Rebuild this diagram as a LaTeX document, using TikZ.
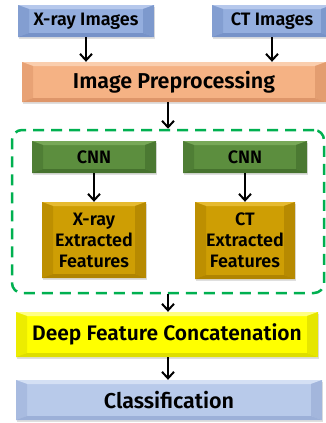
\documentclass[tikz,border=0pt]{standalone}
\usepackage{fontspec}
\setmainfont{Fira Sans}[UprightFont=* SemiBold, BoldFont=* Bold]
\usetikzlibrary{arrows.meta,calc,shadows}
\definecolor{bluF}{RGB}{148,174,222}
\definecolor{bluL}{RGB}{182,200,236}
\definecolor{bluD}{RGB}{118,146,200}
\definecolor{preF}{RGB}{245,178,132}
\definecolor{preL}{RGB}{250,206,174}
\definecolor{preD}{RGB}{222,150,106}
\definecolor{grnF}{RGB}{92,142,62}
\definecolor{grnL}{RGB}{120,168,88}
\definecolor{grnD}{RGB}{70,114,46}
\definecolor{gldF}{RGB}{206,158,4}
\definecolor{gldL}{RGB}{230,186,48}
\definecolor{gldD}{RGB}{176,132,0}
\definecolor{ylwF}{RGB}{255,255,0}
\definecolor{ylwL}{RGB}{255,255,130}
\definecolor{ylwD}{RGB}{222,222,0}
\definecolor{clsF}{RGB}{184,202,234}
\definecolor{clsL}{RGB}{212,224,244}
\definecolor{clsD}{RGB}{156,176,216}
\definecolor{dgreen}{RGB}{0,176,80}
\tikzset{
  bevel/.style 2 args={path picture={
    \coordinate (bvNE) at (path picture bounding box.north east);
    \coordinate (bvSW) at (path picture bounding box.south west);
    \coordinate (bvNW) at (bvSW|-bvNE);
    \coordinate (bvSE) at (bvNE|-bvSW);
    \coordinate (iNE) at ($(bvNE)+(-11pt,-4pt)$);
    \coordinate (iSW) at ($(bvSW)+(11pt,4pt)$);
    \coordinate (iNW) at (iSW|-iNE);
    \coordinate (iSE) at (iNE|-iSW);
    \fill[#1] (bvNW)--(bvNE)--(iNE)--(iNW)--cycle;
    \fill[#2,opacity=.55] (bvNW)--(iNW)--(iSW)--(bvSW)--cycle;
    \fill[#2,opacity=.75] (bvNE)--(iNE)--(iSE)--(bvSE)--cycle;
    \fill[#2] (bvSW)--(iSW)--(iSE)--(bvSE)--cycle;
  }},
  box/.style={inner sep=0pt, align=center, text=black,
    drop shadow={shadow xshift=1pt, shadow yshift=-1.5pt, opacity=0.25}},
  bluebox/.style={box, fill=bluF, bevel={bluL}{bluD}, font=\fontsize{18}{21}\selectfont},
  prebox/.style={box, fill=preF, bevel={preL}{preD}, font=\fontsize{21.5}{25}\selectfont},
  cnnbox/.style={box, fill=grnF, bevel={grnL}{grnD}, font=\fontsize{18}{21}\selectfont},
  featbox/.style={box, fill=gldF, bevel={gldL}{gldD}, font=\fontsize{18}{21}\selectfont},
  ylwbox/.style={box, fill=ylwF, bevel={ylwL}{ylwD}, font=\fontsize{21}{25}\selectfont},
  clsbox/.style={box, fill=clsF, bevel={clsL}{clsD}, font=\fontsize{21.5}{25}\selectfont},
  grpbox/.style={draw=dgreen, line width=2.5pt, dash pattern=on 11pt off 7pt, rounded corners=10pt},
  arr/.style={line width=2.6pt, -{Straight Barb[length=6.5pt,width=12pt,line width=2pt]}}
}
\begin{document}
\begin{tikzpicture}[x=1pt,y=-1pt]
\useasboundingbox (0,0) rectangle (325,423);
\fill[white] (0,0) rectangle (325,423);
\node[bluebox, minimum width=136, minimum height=32] (xray) at (86,21) {X-ray Images};
\node[bluebox, minimum width=120, minimum height=32] (ct) at (272,21) {CT Images};
\node[prebox, minimum width=304, minimum height=40] (pre) at (174,82) {Image Preprocessing};
\node[grpbox, minimum width=312, minimum height=163] (grp) at (168,211.5) {};
\node[cnnbox, minimum width=124, minimum height=32] (cnn1) at (94,157) {CNN};
\node[cnnbox, minimum width=124, minimum height=32] (cnn2) at (245,157) {CNN};
\node[featbox, minimum width=104, minimum height=76] (feat1) at (94,240) {X-ray\\Extracted\\Features};
\node[featbox, minimum width=100, minimum height=77] (feat2) at (245,240.5) {CT\\Extracted\\Features};
\node[ylwbox, minimum width=302, minimum height=45] (dfc) at (167,334.5) {Deep Feature Concatenation};
\node[clsbox, minimum width=306, minimum height=40] (cls) at (169,400) {Classification};
\draw[arr] (xray.south) -- (xray.south |- pre.north);
\draw[arr] (ct.south) -- (ct.south |- pre.north);
\draw[arr] (pre.south -| grp.north) -- (grp.north);
\draw[arr] (cnn1.south) -- (feat1.north);
\draw[arr] (cnn2.south) -- (feat2.north);
\draw[arr] (grp.south) -- (grp.south |- dfc.north);
\draw[arr] (dfc.south -| grp.south) -- (grp.south |- cls.north);
\end{tikzpicture}
\end{document}
